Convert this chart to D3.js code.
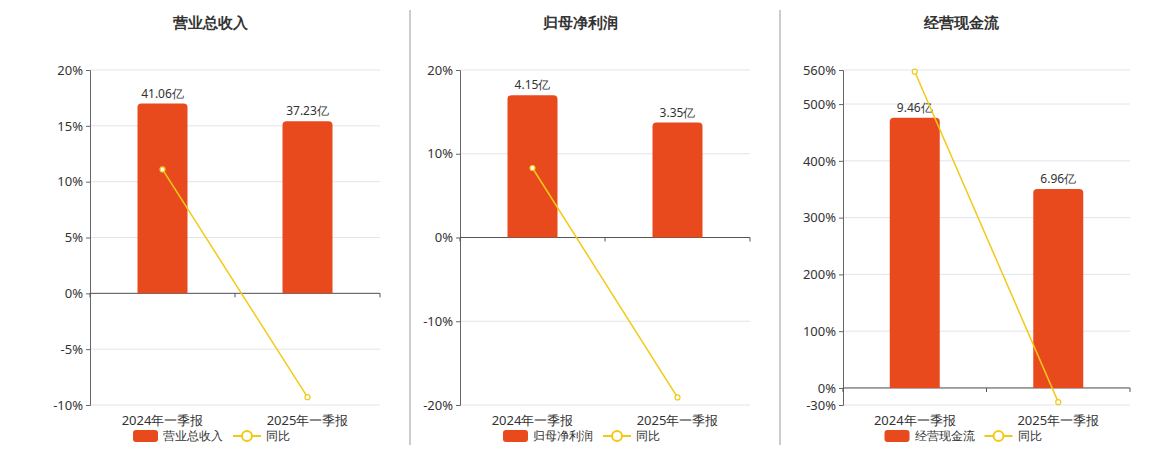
<!DOCTYPE html>
<meta charset="utf-8">
<style>
body{margin:0;background:#fff;font-family:"Noto Sans","DejaVu Sans",sans-serif;}
</style>
<body>
<script src="https://cdn.jsdelivr.net/npm/d3@7"></script>
<script>
var categories = ["2024年一季报", "2025年一季报"];
var titles = ["营业总收入", "归母净利润", "经营现金流"];
var barValues = [[41.06, 37.23], [4.15, 3.35], [9.46, 6.96]];
var barLabels = [["41.06亿", "37.23亿"], ["4.15亿", "3.35亿"], ["9.46亿", "6.96亿"]];
var yoyValues = [[11.1, -9.3], [8.3, -19.1], [557, -25]];
var yDomains = [[-10, 20], [-20, 20], [-30, 560]];
var yTicks = [[-10, -5, 0, 5, 10, 15, 20], [-20, -10, 0, 10, 20], [-30, 0, 100, 200, 300, 400, 500, 560]];
var plotX = [[90, 380], [460, 750], [843, 1130]];

var barColor = "#E84A1E", lineColor = "#F2CA16";
var plotTop = 70, plotBottom = 405;

var svg = d3.select("body").append("svg").attr("width", 1160).attr("height", 450);

[410, 780].forEach(function(x) {
	svg.append("line").attr("x1", x).attr("x2", x).attr("y1", 10).attr("y2", 445)
		.style("stroke", "#999");
});

titles.forEach(function(t, p) {
	var x0 = plotX[p][0], x1 = plotX[p][1];
	var g = svg.append("g");
	var y = d3.scaleLinear().domain(yDomains[p]).range([plotBottom, plotTop]);
	var x = d3.scaleBand().domain(categories).range([x0, x1]);
	var zero = y(0);
	var hb = d3.scaleLinear().domain([0, d3.max(barValues[p])]).range([0, (zero - plotTop) * 0.85]);

	g.append("text").attr("x", (x0 + x1) / 2 - 25).attr("y", 28).attr("text-anchor", "middle")
		.style("font-size", "15px").style("font-weight", "bold").style("fill", "#333").text(t);

	g.selectAll(".grid").data(yTicks[p]).enter().append("line")
		.attr("x1", x0).attr("x2", x1).attr("y1", function(d) { return y(d); }).attr("y2", function(d) { return y(d); })
		.style("stroke", "#e3e3ec");

	var ya = g.append("g").attr("transform", "translate(" + x0 + ",0)")
		.call(d3.axisLeft(y).tickValues(yTicks[p]).tickSize(4).tickFormat(function(d) { return d + "%"; }));
	ya.select(".domain").style("stroke", "#666");
	ya.selectAll("line").style("stroke", "#666");
	ya.selectAll("text").style("font-size", "13px").style("fill", "#333").style("font-family", "Noto Sans, sans-serif");

	g.append("line").attr("x1", x0).attr("x2", x1).attr("y1", zero).attr("y2", zero).style("stroke", "#555");
	[x0, (x0 + x1) / 2, x1].forEach(function(tx) {
		g.append("line").attr("x1", tx).attr("x2", tx).attr("y1", zero).attr("y2", zero + 4).style("stroke", "#555");
	});

	g.selectAll(".bar").data(barValues[p]).enter().append("path")
		.attr("d", function(d, i) {
			var cx = x(categories[i]) + x.bandwidth() / 2, w = 50, h = hb(d), r = 4;
			var l = cx - w / 2, tp = zero - h;
			return "M" + l + "," + zero + "V" + (tp + r) + "Q" + l + "," + tp + " " + (l + r) + "," + tp +
				"H" + (l + w - r) + "Q" + (l + w) + "," + tp + " " + (l + w) + "," + (tp + r) + "V" + zero + "Z";
		}).style("fill", barColor);

	g.selectAll(".bl").data(barLabels[p]).enter().append("text")
		.attr("x", function(d, i) { return x(categories[i]) + x.bandwidth() / 2; })
		.attr("y", function(d, i) { return zero - hb(barValues[p][i]) - 6; })
		.attr("text-anchor", "middle").style("font-size", "12px").style("fill", "#333").text(function(d) { return d; });

	var line = d3.line().x(function(d, i) { return x(categories[i]) + x.bandwidth() / 2; }).y(function(d) { return y(d); });
	g.append("path").attr("d", line(yoyValues[p])).style("fill", "none").style("stroke", lineColor).style("stroke-width", 1.5);
	g.selectAll(".pt").data(yoyValues[p]).enter().append("circle")
		.attr("cx", function(d, i) { return x(categories[i]) + x.bandwidth() / 2; })
		.attr("cy", function(d) { return y(d); }).attr("r", 2.5)
		.style("fill", "#fff").style("stroke", lineColor).style("stroke-width", 1.2);

	g.selectAll(".cat").data(categories).enter().append("text")
		.attr("x", function(d) { return x(d) + x.bandwidth() / 2; }).attr("y", 425)
		.attr("text-anchor", "middle").style("font-size", "13px").style("fill", "#333").text(function(d) { return d; });

	var lx = (x0 + x1) / 2 - 102;
	var lg = g.append("g").attr("transform", "translate(" + lx + ",436)");
	lg.append("rect").attr("x", 0).attr("y", -6).attr("width", 25).attr("height", 12).attr("rx", 3).style("fill", barColor);
	lg.append("text").attr("x", 30).attr("y", 4).style("font-size", "12px").style("fill", "#333").text(t);
	var lx2 = 30 + t.length * 12 + 10;
	lg.append("line").attr("x1", lx2).attr("x2", lx2 + 28).attr("y1", 0).attr("y2", 0).style("stroke", lineColor).style("stroke-width", 2);
	lg.append("circle").attr("cx", lx2 + 14).attr("cy", 0).attr("r", 5).style("fill", "#fff").style("stroke", lineColor).style("stroke-width", 2);
	lg.append("text").attr("x", lx2 + 33).attr("y", 4).style("font-size", "12px").style("fill", "#333").text("同比");
});
</script>
</body>
